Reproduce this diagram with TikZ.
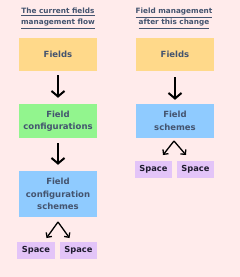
\documentclass[tikz,border=0pt]{standalone}
\usepackage{fontspec}
\setmainfont{DejaVu Sans}
\usetikzlibrary{arrows.meta,calc}
\definecolor{bg}{HTML}{FFEBEB}
\definecolor{yel}{HTML}{FFD98A}
\definecolor{grn}{HTML}{92F58E}
\definecolor{blu}{HTML}{8FCBFF}
\definecolor{pur}{HTML}{E3C4F8}
\definecolor{slate}{HTML}{44546F}
\definecolor{ink}{HTML}{1E1B2E}
\tikzset{
  box/.style={rectangle, inner sep=0pt, align=center, text=slate,
    font=\fontsize{8.5}{12.5}\selectfont\bfseries, minimum width=78pt},
  spacebox/.style={rectangle, fill=pur, inner sep=0pt, text=ink,
    font=\fontsize{8.3}{10}\selectfont\bfseries, minimum width=37.5pt, minimum height=17.5pt},
  ttl/.style={align=center, text=slate, inner sep=0pt,
    font=\fontsize{7.3}{11}\selectfont\bfseries},
  bigarrow/.style={-{Straight Barb[length=5.5pt,width=13pt,line width=2pt]}, line width=2pt, black},
  smallarrow/.style={-{Straight Barb[length=3.5pt,width=7pt,line width=1.3pt]}, line width=1.3pt, black},
}
\begin{document}
\begin{tikzpicture}[x=1pt,y=-1pt]
\fill[bg] (0,0) rectangle (240,277);
\useasboundingbox (0,0) rectangle (240,277);
% left column
\node[ttl] (t1) at (58,18.5) {\underline{The current fields}\\\underline{management flow}};
\node[box, fill=yel, minimum height=33pt] (f1) at (58,54.5) {Fields};
\node[box, fill=grn, minimum height=34pt] (c1) at (58,121) {Field\\configurations};
\node[box, fill=blu, minimum height=46pt] (s1) at (58,194) {Field\\configuration\\schemes};
\node[spacebox] (sp1) at (36,250.5) {Space};
\node[spacebox] (sp2) at (78.5,250.5) {Space};
\draw[bigarrow, shorten <=4pt, shorten >=6pt] (f1) -- (c1);
\draw[bigarrow, shorten <=5pt, shorten >=6pt] (c1) -- (s1);
\coordinate (a1) at (58,222);
\coordinate (l1) at (46.5,238);
\coordinate (r1) at (69.5,238);
\draw[smallarrow] (a1) -- (l1);
\draw[smallarrow] (a1) -- (r1);
% right column
\node[ttl] (t2) at (174,18.5) {\underline{Field management}\\\underline{after this change}};
\node[box, fill=yel, minimum height=33pt] (f2) at (175,54.5) {Fields};
\node[box, fill=blu, minimum height=34pt] (fs2) at (175,121) {Field\\schemes};
\node[spacebox] (sp3) at (153.5,169.5) {Space};
\node[spacebox] (sp4) at (195.5,169.5) {Space};
\draw[bigarrow, shorten <=6pt, shorten >=4pt] (f2) -- (fs2);
\coordinate (a2) at (174,141);
\coordinate (l2) at (163,155);
\coordinate (r2) at (186,155);
\draw[smallarrow] (a2) -- (l2);
\draw[smallarrow] (a2) -- (r2);
\end{tikzpicture}
\end{document}
